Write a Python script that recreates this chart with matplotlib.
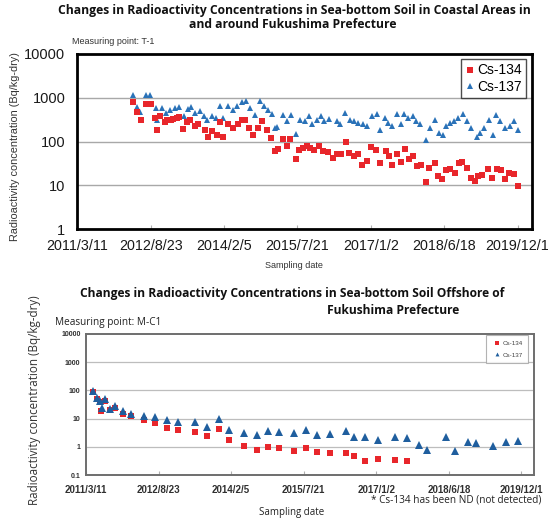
import numpy as np
import matplotlib
matplotlib.use('Agg')
import matplotlib.pyplot as plt
import matplotlib.dates as mdates
from matplotlib.lines import Line2D

# ---------------- data: coastal point T-1 ----------------
t1_cs134_dates = ['2012-04-19', '2012-05-14', '2012-06-12', '2012-07-21', '2012-08-05', '2012-08-22',
                  '2012-09-24', '2012-10-10', '2012-10-30', '2012-12-05', '2012-12-22', '2013-01-15',
                  '2013-02-03', '2013-02-27', '2013-03-18', '2013-04-11', '2013-05-10', '2013-06-03',
                  '2013-07-10', '2013-08-03', '2013-09-18', '2013-10-10', '2013-11-08', '2013-12-14',
                  '2014-01-07', '2014-01-29', '2014-03-03', '2014-04-13', '2014-05-20', '2014-06-13',
                  '2014-07-07', '2014-08-05', '2014-09-06', '2014-10-11', '2014-11-05', '2014-12-11',
                  '2015-01-08', '2015-02-12', '2015-03-01', '2015-04-10', '2015-05-04', '2015-05-28',
                  '2015-07-08', '2015-08-01', '2015-09-01', '2015-09-30', '2015-10-24', '2015-11-18',
                  '2015-12-24', '2016-01-24', '2016-02-26', '2016-04-06', '2016-04-30', '2016-05-29',
                  '2016-07-04', '2016-07-30', '2016-09-02', '2016-10-02', '2016-11-01', '2016-12-03',
                  '2017-01-02', '2017-02-07', '2017-03-10', '2017-04-21', '2017-05-15', '2017-06-08',
                  '2017-07-10', '2017-08-08', '2017-09-06', '2017-10-06', '2017-11-06', '2017-12-01',
                  '2017-12-30', '2018-02-04', '2018-02-28', '2018-04-13', '2018-05-05', '2018-06-05',
                  '2018-06-29', '2018-07-31', '2018-09-05', '2018-10-03', '2018-10-27', '2018-12-02',
                  '2018-12-31', '2019-01-25', '2019-02-20', '2019-03-21', '2019-05-03', '2019-06-01',
                  '2019-07-03', '2019-08-05', '2019-08-30', '2019-09-30', '2019-11-05', '2019-12-07']
t1_cs134_values = [790, 479, 320, 740, 740, 720,
                   349, 189, 381, 277, 308, 308,
                   331, 349, 360, 196, 277, 308,
                   233, 259, 189, 129, 172, 145,
                   277, 129, 259, 206, 259, 308,
                   308, 206, 140, 206, 293, 189,
                   122, 60, 68, 112, 78, 112,
                   40, 66, 72, 78, 72, 66,
                   78, 60, 58, 43, 51, 53,
                   99, 55, 46, 51, 30, 37,
                   76, 66, 33, 60, 46, 30,
                   53, 34, 68, 40, 46, 28,
                   30, 11.9, 25, 32, 16.3, 13.7,
                   22, 24, 19.4, 32, 34, 25,
                   14.8, 12.4, 16.3, 17.8, 24, 14.8,
                   24, 23, 14.3, 19.4, 18.3, 9.9]

t1_cs137_dates = ['2012-04-19', '2012-05-14', '2012-06-08', '2012-07-21', '2012-08-19', '2012-10-01',
                  '2012-10-06', '2012-11-11', '2012-12-13', '2013-01-11', '2013-02-12', '2013-03-13',
                  '2013-04-18', '2013-05-24', '2013-06-11', '2013-07-12', '2013-08-13', '2013-09-12',
                  '2013-10-07', '2013-11-08', '2013-12-09', '2014-01-07', '2014-01-31', '2014-03-08',
                  '2014-04-13', '2014-05-07', '2014-06-13', '2014-07-12', '2014-08-12', '2014-09-17',
                  '2014-10-23', '2014-11-21', '2014-12-22', '2015-01-16', '2015-02-08', '2015-02-25',
                  '2015-04-05', '2015-05-04', '2015-06-04', '2015-07-11', '2015-08-09', '2015-09-14',
                  '2015-10-16', '2015-11-02', '2015-12-08', '2016-01-05', '2016-01-31', '2016-03-07',
                  '2016-04-30', '2016-05-24', '2016-06-29', '2016-08-05', '2016-09-02', '2016-10-03',
                  '2016-11-04', '2016-12-03', '2017-01-10', '2017-02-15', '2017-03-10', '2017-04-15',
                  '2017-05-09', '2017-06-08', '2017-07-10', '2017-08-08', '2017-09-01', '2017-10-01',
                  '2017-11-02', '2017-11-26', '2017-12-25', '2018-02-07', '2018-03-08', '2018-04-13',
                  '2018-05-15', '2018-06-08', '2018-07-01', '2018-07-31', '2018-08-31', '2018-09-29',
                  '2018-10-31', '2018-11-29', '2018-12-30', '2019-02-10', '2019-03-06', '2019-03-30',
                  '2019-05-05', '2019-06-06', '2019-06-30', '2019-07-29', '2019-09-03', '2019-10-04',
                  '2019-11-02', '2019-12-01']
t1_cs137_values = [1130, 623, 469, 1130, 1130, 591,
                   308, 591, 454, 540, 591, 623,
                   380, 560, 623, 454, 494, 380,
                   308, 380, 349, 667, 349, 667,
                   540, 643, 793, 836, 591, 400,
                   836, 643, 540, 438, 202, 218,
                   409, 293, 409, 150, 320, 293,
                   380, 248, 320, 380, 293, 331,
                   293, 248, 454, 320, 293, 268,
                   248, 233, 380, 431, 189, 349,
                   268, 233, 431, 248, 431, 349,
                   380, 293, 248, 108, 206, 320,
                   159, 145, 225, 268, 293, 349,
                   438, 303, 206, 129, 159, 206,
                   320, 145, 416, 293, 206, 225,
                   293, 189]

# ---------------- data: offshore point M-C1 ----------------
mc1_cs134_dates = ['2011-04-29', '2011-05-28', '2011-06-21', '2011-06-26', '2011-07-28', '2011-09-03',
                   '2011-10-09', '2011-12-05', '2012-02-03', '2012-05-11', '2012-07-28', '2012-10-26',
                   '2013-01-15', '2013-05-17', '2013-08-15', '2013-11-09', '2014-01-23', '2014-05-13',
                   '2014-08-11', '2014-10-31', '2015-01-22', '2015-05-12', '2015-08-05', '2015-10-29',
                   '2016-01-30', '2016-05-24', '2016-07-24', '2016-10-10', '2017-01-18', '2017-05-18',
                   '2017-08-14']
mc1_cs134_values = [86, 48, 38, 18, 41, 21,
                    24, 15, 12, 8.6, 7.1, 4.7,
                    4.1, 3.4, 2.4, 4.3, 1.7, 1.1,
                    0.8, 0.97, 0.92, 0.70, 0.92, 0.64,
                    0.58, 0.61, 0.46, 0.31, 0.38, 0.33,
                    0.31]

mc1_cs137_dates = ['2011-05-03', '2011-05-28', '2011-06-21', '2011-07-04', '2011-07-28', '2011-09-03',
                   '2011-10-09', '2011-12-05', '2012-02-03', '2012-05-11', '2012-07-28', '2012-10-26',
                   '2013-01-15', '2013-05-17', '2013-08-15', '2013-11-09', '2014-01-23', '2014-05-13',
                   '2014-08-11', '2014-10-31', '2015-01-22', '2015-05-12', '2015-08-05', '2015-10-29',
                   '2016-01-30', '2016-05-24', '2016-07-24', '2016-10-10', '2017-01-18', '2017-05-18',
                   '2017-08-14', '2017-11-12', '2018-01-11', '2018-05-26', '2018-08-02', '2018-11-07',
                   '2018-12-31', '2019-05-09', '2019-08-13', '2019-11-06']
mc1_cs137_values = [94, 55, 41, 24, 50, 22,
                    27.5, 18, 15, 12, 11.2, 8.6,
                    7.5, 7.5, 5.1, 9.8, 4.1, 3.0,
                    2.7, 3.6, 3.3, 3.1, 3.8, 2.7,
                    2.9, 3.6, 2.2, 2.2, 1.7, 2.2,
                    2.1, 1.2, 0.8, 2.2, 0.7, 1.46,
                    1.39, 1.05, 1.46, 1.58]

tick_dates = ['2011-03-11', '2012-08-23', '2014-02-05', '2015-07-21', '2017-01-02', '2018-06-18', '2019-12-01']
tick_labels = ['2011/3/11', '2012/8/23', '2014/2/5', '2015/7/21', '2017/1/2', '2018/6/18', '2019/12/1']
top_yticks = [1, 10, 100, 1000, 10000]
top_ylabels = ['1', '10', '100', '1000', '10000']
bot_yticks = [0.1, 1, 10, 100, 1000, 10000]
bot_ylabels = ['0.1', '1', '10', '100', '1000', '10000']
series_names = ['Cs-134', 'Cs-137']


def dnum(lst):
    return mdates.date2num(np.array(lst, dtype='datetime64[D]'))


RED = '#E8262B'
BLUE_T = '#2A72B8'
BLUE_B = '#1F5E9E'
FONT = 'Liberation Sans'

W, H = 549, 520
fig = plt.figure(figsize=(W / 100, H / 100), dpi=100)
fig.patch.set_facecolor('white')


def fx(x):
    return x / W


def fy(y):
    return 1 - y / H


# ---------------- top chart ----------------
ax1 = fig.add_axes([fx(77.3), fy(229.3), (532.3 - 77.3) / W, (229.3 - 54) / H])
ax1.plot(dnum(t1_cs137_dates), t1_cs137_values, linestyle='none', marker='^', ms=4.6,
         color=BLUE_T, mec=BLUE_T, mew=0, zorder=3)
ax1.plot(dnum(t1_cs134_dates), t1_cs134_values, linestyle='none', marker='s', ms=3.9,
         color=RED, mec=RED, mew=0, zorder=4)
ax1.set_yscale('log')
ax1.set_ylim(1, 10000)
ax1.set_xlim(dnum(['2011-03-11'])[0], dnum(['2020-03-17'])[0])
ax1.set_yticks(top_yticks)
ax1.set_yticklabels(top_ylabels)
ax1.yaxis.set_minor_locator(matplotlib.ticker.NullLocator())
ax1.set_xticks(dnum(tick_dates))
ax1.set_xticklabels(tick_labels)
for v in top_yticks[1:-1]:
    ax1.axhline(v, color='#A8A8A8', lw=1.0, zorder=1)
for s in ax1.spines.values():
    s.set_color('black')
    s.set_linewidth(2.0)
ax1.tick_params(axis='y', length=0, pad=8.5, labelsize=10.5, labelcolor='#1a1a1a')
ax1.tick_params(axis='x', direction='in', length=3, color='#B0B0B0', pad=7, labelsize=10.3,
                labelcolor='#1a1a1a')
for lab in ax1.get_xticklabels() + ax1.get_yticklabels():
    lab.set_fontfamily(FONT)

h1 = [Line2D([], [], linestyle='none', marker='s', ms=4.5, color=RED, mew=0),
      Line2D([], [], linestyle='none', marker='^', ms=5, color=BLUE_T, mew=0)]
leg1 = ax1.legend(h1, series_names, loc='upper right',
                  bbox_to_anchor=((526 - 77.3) / 455, (229.3 - 59.3) / 175.3),
                  borderaxespad=0, frameon=True, fancybox=False, handlelength=0.6,
                  handletextpad=0.25, labelspacing=0.15, borderpad=0.3,
                  prop={'family': FONT, 'size': 10})
leg1.get_frame().set_edgecolor('#202020')
leg1.get_frame().set_linewidth(1.0)

# ---------------- bottom chart ----------------
ax2 = fig.add_axes([fx(86), fy(475), (534 - 86) / W, (475 - 334) / H])
ax2.plot(dnum(mc1_cs134_dates), mc1_cs134_values, linestyle='none', marker='s', ms=4.6,
         color=RED, mec=RED, mew=0, zorder=3)
ax2.plot(dnum(mc1_cs137_dates), mc1_cs137_values, linestyle='none', marker='^', ms=5.2,
         color=BLUE_B, mec=BLUE_B, mew=0, zorder=4)
ax2.set_yscale('log')
ax2.set_ylim(0.1, 10000)
ax2.set_xlim(dnum(['2011-03-11'])[0], dnum(['2020-03-02'])[0])
ax2.set_yticks(bot_yticks)
ax2.set_yticklabels(bot_ylabels)
ax2.yaxis.set_minor_locator(matplotlib.ticker.NullLocator())
ax2.set_xticks(dnum(tick_dates))
ax2.set_xticklabels(tick_labels)
for v in bot_yticks[1:-1]:
    ax2.axhline(v, color='#BDBDBD', lw=0.9, zorder=1)
for s in ax2.spines.values():
    s.set_color('#6E6E6E')
    s.set_linewidth(1.4)
ax2.tick_params(axis='y', length=0, pad=4, labelsize=5, labelcolor='#303030')
ax2.tick_params(axis='x', direction='in', length=3, color='#B0B0B0', pad=7, labelsize=7,
                labelcolor='#303030')
for lab in ax2.get_xticklabels():
    lab.set_fontfamily(FONT)
    lab.set_fontweight('bold')
for lab in ax2.get_yticklabels():
    lab.set_fontfamily(FONT)
    lab.set_fontweight('bold')

h2 = [Line2D([], [], linestyle='none', marker='s', ms=2.6, color=RED, mew=0),
      Line2D([], [], linestyle='none', marker='^', ms=2.8, color=BLUE_B, mew=0)]
leg2 = ax2.legend(h2, series_names, loc='upper right',
                  bbox_to_anchor=((528.3 - 86) / 448, (475 - 335) / 141),
                  borderaxespad=0, frameon=True, fancybox=False, handlelength=1.6,
                  handletextpad=0.1, labelspacing=1.0, borderpad=0.9,
                  prop={'family': FONT, 'size': 4.5})
leg2.get_frame().set_edgecolor('#A0A0A0')
leg2.get_frame().set_linewidth(0.8)
for t in leg2.get_texts():
    t.set_color('#404040')

# ---------------- texts ----------------
TITLE_FONT = 'Open Sans'
renderer = fig.canvas.get_renderer()


def fit(txt, width_px):
    w = txt.get_window_extent(renderer=renderer).width
    txt.set_fontsize(txt.get_fontsize() * width_px / w)
    return txt.get_fontsize()


t1a = fig.text(fx(294), fy(10.5), 'Changes in Radioactivity Concentrations in Sea-bottom Soil in Coastal Areas in',
               ha='center', va='center', fontsize=9, fontweight='bold', family=TITLE_FONT, color='#111111')
fs = fit(t1a, 472)
fig.text(fx(293), fy(24.5), 'and around Fukushima Prefecture', ha='center', va='center',
         fontsize=fs, fontweight='bold', family=TITLE_FONT, color='#111111')
fig.text(fx(72), fy(42), 'Measuring point: T-1', ha='left', va='center', fontsize=6.5,
         family=FONT, color='#333333')
fig.text(fx(15), fy(147), 'Radioactivity concentration (Bq/kg-dry)', rotation=90, ha='center',
         va='center', fontsize=7.8, family=FONT, color='#333333')
fig.text(fx(294), fy(266), 'Sampling date', ha='center', va='center', fontsize=6.5,
         family=FONT, color='#333333')

t2a = fig.text(fx(292), fy(293.5), 'Changes in Radioactivity Concentrations in Sea-bottom Soil Offshore of',
               ha='center', va='center', fontsize=9, fontweight='bold', family=TITLE_FONT, color='#111111')
fs2 = fit(t2a, 424)
fig.text(fx(327), fy(310), 'Fukushima Prefecture', ha='left', va='center',
         fontsize=fs2, fontweight='bold', family=TITLE_FONT, color='#111111')
fig.text(fx(55), fy(322), 'Measuring point: M-C1', ha='left', va='center', fontsize=7.2,
         family=TITLE_FONT, color='#222222')
fig.text(fx(35), fy(400), 'Radioactivity concentration (Bq/kg-dry)', rotation=90, ha='center',
         va='center', fontsize=8.4, family=TITLE_FONT, color='#333333')
fig.text(fx(541), fy(500), '* Cs-134 has been ND (not detected)', ha='right', va='center',
         fontsize=7.2, family=TITLE_FONT, color='#222222')
fig.text(fx(292), fy(512), 'Sampling date', ha='center', va='center', fontsize=7,
         family=TITLE_FONT, color='#222222')

fig.savefig('out.png', dpi=100, facecolor='white')
